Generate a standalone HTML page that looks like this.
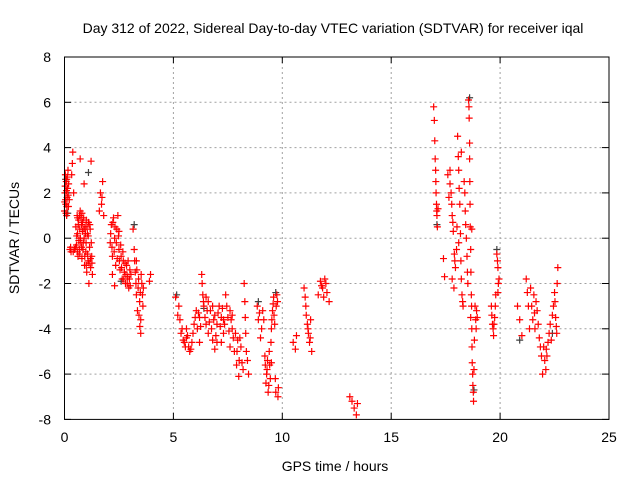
<!DOCTYPE html>
<html><head><meta charset="utf-8"><style>
body{margin:0;background:#fff;}
svg{display:block;font-family:"Liberation Sans",sans-serif;}
</style></head><body>
<svg id="chart" width="640" height="480">
<text x="333" y="33" font-size="14" text-anchor="middle">Day 312 of 2022, Sidereal Day-to-day VTEC variation (SDTVAR) for receiver iqal</text>
<text x="335" y="471" font-size="14" text-anchor="middle">GPS time / hours</text>
<text x="0" y="0" font-size="14" text-anchor="middle" transform="translate(19,238) rotate(-90)">SDTVAR / TECUs</text>
<g id="grid"></g>
<g id="marks"></g>
<rect x="64.5" y="57" width="544.5" height="362.4" fill="none" stroke="#000" stroke-width="1"/>
</svg>
<script>
const xTicks=[0,5,10,15,20,25];
const yTicks=[-8,-6,-4,-2,0,2,4,6,8];
const redPts=[
[0,1.2],[0.02,2],[0.04,2.8],[0.06,1.5],[0.08,2.5],[0.1,1],[0.12,1.8],[0.14,2.2],[0.16,3],[0.18,1.4],[0.05,1.7],[0.1,2.6],
[0.25,-0.5],[0.3,-0.6],[0.33,2.8],[0.38,3.8],[0.42,2],[0.46,-0.5],[0.5,-0.4],[0.36,3.3],
[0.52,0.5],[0.55,-0.3],[0.58,1],[0.6,0.2],[0.62,-0.8],[0.65,0.8],[0.68,-0.5],[0.7,0.4],[0.72,1.2],[0.75,-0.2],[0.78,0.6],[0.8,-0.9],[0.82,0.3],[0.85,-0.5],[0.88,0.9],[0.9,0],[0.92,-1.2],[0.95,0.5],[0.98,-0.6],[1.0,0.8],[1.02,-1.5],[1.05,0.2],[1.08,-1],[1.1,0.7],[1.12,-2],[1.15,-0.4],[1.18,0.4],[1.2,-1.3],[1.22,3.4],[0.72,3.5],[0.9,2.4],[0.6,0.9],[1.25,-0.8],[1.28,-1.6],
[1.6,1.2],[1.65,2],[1.7,1.5],[1.75,2.5],[1.8,1],[1.72,1.8],
[2.1,-0.2],[2.15,0.6],[2.2,-0.8],[2.25,0.9],[2.3,0],[2.35,-1.2],[2.4,0.4],[2.45,1],[2.5,-0.5],[2.55,-1.4],[2.6,-0.8],[2.65,-1.8],[2.7,-1],[2.75,-1.5],[2.8,-2],[2.85,-1.2],[2.9,-1.7],[2.95,-2.2],[3,-1.4],[2.3,-2.1],[2.2,-1.6],[2.5,0.3],
[3.15,0.4],[3.2,-0.5],[3.25,-1.5],[3.3,-2.5],[3.35,-3.2],[3.4,-1.8],[3.45,-2.8],[3.5,-4.2],[3.55,-2],[3.6,-3],[3.3,-1],[3.5,-3.6],[3.9,-1.9],[3.95,-1.6],
[5.1,-2.6],[5.2,-3.4],[5.25,-3],[5.35,-4.2],[5.45,-4.5],[5.55,-4.8],[5.65,-4.3],[5.75,-5],[5.85,-4.6],[5.95,-3.8],[6.05,-3.2],[6.1,-4],[6.2,-3.5],[6.3,-1.6],[6.35,-2.5],[6.4,-3],[6.5,-3.8],[6.6,-4.2],[6.7,-3.2],[6.8,-4.5],[6.9,-4.9],[7,-3.8],[7.1,-3],[7.2,-3.5],[7.3,-4.2],[7.4,-2.5],[7.5,-3.5],[7.6,-4.8],[7.7,-4],[7.8,-5],[7.9,-5.6],[8,-6.1],[8.05,-4.4],[8.15,-5.5],[8.25,-2],[8.3,-3.5],[8.35,-5],[8.45,-6],[6.6,-2.8],[7.2,-4.6],[6.9,-3.4],[7.6,-3.2],[5.6,-4],[6.2,-4.6],[7.95,-4.5],
[8.85,-3],[8.9,-3.6],[9,-4.4],[9.1,-3.2],[9.2,-5.2],[9.25,-6.4],[9.3,-5.8],[9.35,-6.8],[9.4,-5],[9.45,-6.2],[9.5,-4],[9.55,-3.2],[9.6,-2.6],[9.65,-3.8],[9.75,-2.5],[9.8,-7],[9.7,-6.8],[9.5,-5.5],
[10.5,-4.6],[10.6,-4.9],[10.65,-4.3],
[11,-2.2],[11.05,-2.6],[11.1,-3.4],[11.15,-3.8],[11.2,-4.2],[11.25,-4.6],[11.3,-3.6],[11.35,-5],
[11.65,-2.5],[11.75,-1.9],[11.85,-2.2],[11.95,-1.8],[12.05,-2.4],[12.15,-2.8],[12,-2],
[13.1,-7],[13.2,-7.2],[13.3,-7.5],[13.4,-7.8],[13.45,-7.3],
[16.95,5.8],[16.98,5.2],[17,4.3],[17.02,3.5],[17.05,2.5],[17.08,1.5],[17.1,1],[17.12,0.5],[17.15,1.3],[17.4,-0.9],[17.45,-1.7],
[17.6,2.8],[17.65,1.8],[17.7,3],[17.75,2],[17.8,1],[17.85,0.3],[17.9,-0.7],[17.95,-1.3],[17.88,-2.2],[17.8,-1.8],
[18,-0.5],[18.05,4.5],[18.1,3],[18.15,1.5],[18.2,-1],[18.25,-2.5],[18.3,-3],[18.35,2.5],[18.4,1.2],[18.45,0],[18.5,-1.5],[18.52,-2],[18.1,-0.2],[18.22,3.8],
[18.55,6.1],[18.58,5.3],[18.6,3.5],[18.62,1.5],[18.65,-0.5],[18.68,-2.5],[18.7,-4],[18.72,-5.5],[18.75,-6.5],[18.78,-7.2],[18.8,-5.8],[18.65,-3.5],[18.7,0.4],[18.6,4.2],
[18.85,-3],[18.9,-4],[18.95,-3.5],
[19.6,-3],[19.65,-3.8],[19.7,-4.3],[19.75,-3.5],[19.8,-2.5],[19.85,-0.7],[19.9,-1.3],[19.95,-1.8],[19.9,-2.4],
[20.8,-3],[20.9,-3.6],[21,-4.3],[21.2,-1.8],[21.3,-3],[21.4,-2.2],[21.5,-3.6],[21.55,-2.5],[21.6,-4],[21.7,-3.2],[21.8,-4.4],[21.9,-5.2],[22,-4.8],[22.1,-5.8],[22.15,-5.2],[22.2,-4.6],[22.3,-3.8],[22.35,-4.5],[22.45,-3],[22.5,-2.4],[22.55,-3.5],[22.6,-4.2],[22.65,-1.3],[21.95,-6],[21.35,-4]
];
const redPtsExtra=[
[0.01,1.6],[0.03,2.3],[0.07,1.1],[0.09,2.1],[0.11,1.4],[0.13,2.7],[0.17,1.9],[0.19,2.4],[0.22,1.7],[0.28,-0.4],[0.4,-0.6],
[0.56,0.1],[0.59,-0.6],[0.63,0.6],[0.66,-0.1],[0.69,1.0],[0.73,0.0],[0.76,0.9],[0.79,-0.4],[0.83,0.7],[0.86,-0.2],[0.89,0.4],[0.93,-0.8],[0.96,0.2],[0.99,-0.2],[1.03,0.5],[1.06,-0.7],[1.09,0.1],[1.13,-1.1],[1.16,0.6],[1.19,-0.9],[1.23,-0.2],[1.26,-1.1],[0.7,-0.7],[0.8,1.1],[1.0,-1.2],
[2.12,0.2],[2.18,-0.4],[2.22,0.7],[2.28,-0.6],[2.32,0.5],[2.38,-0.2],[2.42,-0.9],[2.48,0.1],[2.52,-1.0],[2.58,-0.3],[2.62,-1.3],[2.68,-0.6],[2.72,-1.8],[2.78,-1.1],[2.82,-1.6],[2.88,-2.0],[2.92,-1.0],[2.98,-1.8],[3.02,-2.1],[3.05,-1.6],
[3.22,-1.0],[3.28,-2.0],[3.32,-1.4],[3.38,-2.2],[3.42,-3.4],[3.48,-2.4],[3.52,-1.6],[3.58,-2.5],[3.62,-2.2],[3.46,-3.9],
[5.3,-3.6],[5.4,-4.0],[5.5,-4.6],[5.6,-4.4],[5.7,-4.8],[5.8,-4.9],[5.9,-4.2],[6.0,-3.5],[6.15,-3.3],[6.25,-3.9],[6.32,-2.0],[6.38,-2.8],[6.45,-3.5],[6.55,-3.2],[6.65,-3.7],[6.75,-4.0],[6.85,-3.6],[6.95,-4.3],[7.05,-3.3],[7.15,-3.9],[7.25,-3.1],[7.35,-3.8],[7.45,-3.0],[7.55,-4.1],[7.65,-3.6],[7.75,-4.4],[7.85,-4.2],[7.92,-5.0],[8.02,-5.4],[8.1,-4.8],[8.2,-5.8],[8.28,-2.8],[8.32,-4.2],[8.4,-5.4],[6.5,-2.6],[6.8,-3.0],[7.0,-4.6],[7.3,-3.6],[7.7,-3.4],
[8.95,-3.3],[9.05,-4.0],[9.15,-3.6],[9.22,-5.6],[9.28,-6.0],[9.32,-5.4],[9.38,-6.5],[9.42,-5.6],[9.48,-4.6],[9.52,-3.6],[9.58,-2.9],[9.62,-3.4],[9.68,-6.2],[9.72,-3.0],[9.78,-2.8],[9.82,-6.6],
[11.08,-3.0],[11.18,-4.0],[11.28,-4.4],[11.8,-2.1],[11.9,-2.6],
[17.04,3.0],[17.06,2.0],[17.09,1.2],[17.7,2.4],[17.78,1.5],[17.83,0.7],[17.92,-1.0],[18.02,0.5],[18.08,3.6],[18.12,2.2],[18.18,0.2],[18.22,-1.8],[18.28,-2.8],[18.38,2.0],[18.42,0.6],[18.48,-0.8],
[18.57,5.8],[18.61,2.5],[18.63,0.5],[18.66,-1.5],[18.69,-3.0],[18.71,-4.8],[18.74,-6.0],[18.77,-6.8],[18.82,-4.5],[18.88,-3.6],[18.92,-3.2],
[19.62,-3.4],[19.68,-4.0],[19.72,-3.8],[19.78,-3.0],[19.88,-1.0],[19.92,-2.0],
[21.25,-2.4],[21.45,-3.0],[21.58,-3.3],[21.65,-2.8],[21.75,-3.8],[21.85,-4.8],[22.05,-5.4],[22.12,-4.9],[22.25,-4.2],[22.4,-3.4],[22.52,-2.8],[22.58,-3.9],[22.62,-2.0]
];
const blackPts=[[0.05,2.6],[0.15,1.1],[1.1,2.9],[3.2,0.6],[5.15,-2.5],[8.9,-2.8],[9.7,-2.4],[17.1,0.6],[19.85,-0.5],[18.6,6.2],[18.8,-6.7],[20.9,-4.5],[22.4,-4.2],[6.4,-3.1],[2.6,-1.9]];
const X=h=>64.5+h*544.5/25;
const Y=v=>238.2-v*362.4/16;
const NS="http://www.w3.org/2000/svg";
const grid=document.getElementById('grid');
const marks=document.getElementById('marks');
function mk(tag,attrs,parent){const e=document.createElementNS(NS,tag);for(const k in attrs)e.setAttribute(k,attrs[k]);parent.appendChild(e);return e;}
xTicks.forEach(t=>{
  const x=X(t);
  if(t>0&&t<25){const g=mk('line',{x1:x,x2:x,y1:57,y2:419.4,stroke:'#a0a0a0','stroke-dasharray':'2,3'},grid);
  
  }
  mk('line',{x1:x,x2:x,y1:419.4,y2:413,stroke:'#000'},grid);
  mk('line',{x1:x,x2:x,y1:57,y2:63,stroke:'#000'},grid);
  const l=mk('text',{x:x,y:442,'font-size':14,'text-anchor':'middle'},grid);l.textContent=t;
  
  
});
yTicks.forEach(t=>{
  const y=Y(t);
  if(t>-8&&t<8){const g=mk('line',{x1:64.5,x2:609,y1:y,y2:y,stroke:'#a0a0a0','stroke-dasharray':'2,3'},grid);
  
  }
  mk('line',{x1:64.5,x2:71,y1:y,y2:y,stroke:'#000'},grid);
  mk('line',{x1:609,x2:602,y1:y,y2:y,stroke:'#000'},grid);
  const l=mk('text',{x:51,y:y+5,'font-size':14,'text-anchor':'end'},grid);l.textContent=t;
  
  
});
function plus(p,color){
  const x=X(p[0]),y=Y(p[1]);
  const e=mk('path',{d:`M${x-3.5},${y}H${x+3.5}M${x},${y-3.5}V${y+3.5}`,stroke:color,'stroke-width':1.2,fill:'none'},marks);
  
  
}
blackPts.forEach(p=>plus(p,'#404040'));
redPts.forEach(p=>plus(p,'#ff0000'));
redPtsExtra.forEach(p=>plus(p,'#ff0000'));
</script>
</body></html>
